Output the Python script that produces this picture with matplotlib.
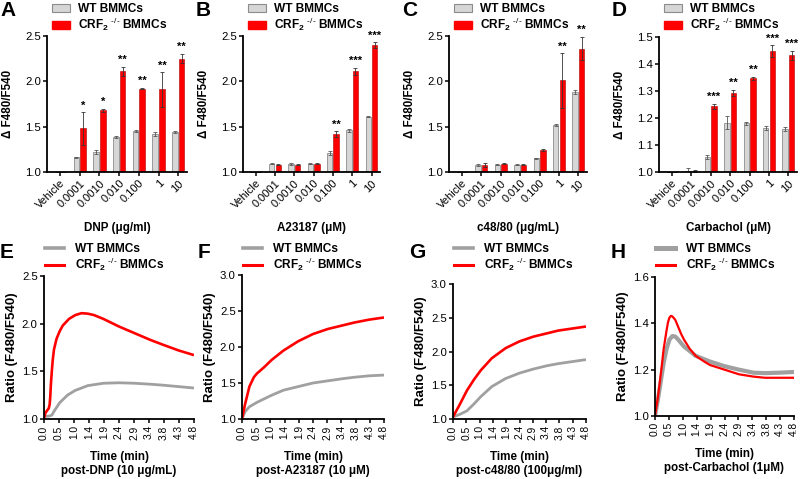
import numpy as np
import matplotlib
matplotlib.use("Agg")
import matplotlib.pyplot as plt
from matplotlib.patches import Patch
from matplotlib.lines import Line2D

plt.rcParams['font.family'] = ['Liberation Sans', 'DejaVu Sans']
plt.rcParams['mathtext.fontset'] = 'custom'
plt.rcParams['mathtext.rm'] = 'Liberation Sans'
plt.rcParams['mathtext.bf'] = 'Liberation Sans:bold'
plt.rcParams['axes.linewidth'] = 1.3

# ---------------- data: bar panels ----------------
conc_labels = ["Vehicle", "0.0001", "0.0010", "0.010", "0.100", "1", "10"]

A_wt = [1.0, 1.16, 1.22, 1.39, 1.45, 1.42, 1.44]
A_wt_err = [0, 0.01, 0.02, 0.01, 0.01, 0.02, 0.015]
A_ko = [1.0, 1.48, 1.68, 2.11, 1.92, 1.91, 2.25]
A_ko_err = [0, 0.18, 0.02, 0.05, 0.01, 0.19, 0.05]
A_sig = ["", "*", "*", "**", "**", "**", "**"]

B_wt = [1.0, 1.09, 1.09, 1.09, 1.21, 1.46, 1.61]
B_wt_err = [0, 0.005, 0.01, 0.005, 0.02, 0.015, 0.005]
B_ko = [1.0, 1.08, 1.08, 1.09, 1.42, 2.11, 2.40]
B_ko_err = [0, 0.005, 0.005, 0.005, 0.03, 0.04, 0.03]
B_sig = ["", "", "", "", "**", "***", "***"]

C_wt = [1.0, 1.08, 1.08, 1.08, 1.15, 1.52, 1.88]
C_wt_err = [0, 0.01, 0.005, 0.005, 0.005, 0.01, 0.02]
C_ko = [1.0, 1.08, 1.09, 1.08, 1.24, 2.01, 2.36]
C_ko_err = [0, 0.02, 0.005, 0.005, 0.01, 0.30, 0.13]
C_sig = ["", "", "", "", "", "**", "**"]

D_wt = [1.0, 1.005, 1.055, 1.183, 1.180, 1.163, 1.160]
D_wt_err = [0, 0.01, 0.007, 0.025, 0.005, 0.008, 0.007]
D_ko = [1.0, 1.004, 1.243, 1.292, 1.347, 1.447, 1.432]
D_ko_err = [0, 0.005, 0.008, 0.012, 0.005, 0.022, 0.017]
D_sig = ["", "", "***", "**", "**", "***", "***"]

# ---------------- data: time courses ----------------
time_ticks = [0.0, 0.5, 1.0, 1.4, 1.9, 2.4, 2.9, 3.4, 3.8, 4.3, 4.8]

E_ko_t = [0.0, 0.04, 0.1, 0.15, 0.18, 0.2, 0.22, 0.25, 0.28, 0.32, 0.4, 0.5, 0.6, 0.8, 1.0, 1.2, 1.4, 1.6, 1.9, 2.4, 2.9, 3.4, 3.8, 4.3, 4.8]
E_ko_y = [1.0, 1.06, 1.09, 1.11, 1.15, 1.23, 1.36, 1.50, 1.62, 1.73, 1.84, 1.92, 1.98, 2.05, 2.09, 2.11, 2.105, 2.09, 2.05, 1.97, 1.90, 1.83, 1.78, 1.72, 1.67]
E_wt_t = [0.0, 0.15, 0.25, 0.32, 0.4, 0.5, 0.75, 1.0, 1.4, 1.9, 2.4, 2.9, 3.4, 3.8, 4.3, 4.8]
E_wt_y = [1.03, 1.03, 1.04, 1.08, 1.12, 1.17, 1.25, 1.30, 1.35, 1.375, 1.38, 1.375, 1.365, 1.355, 1.34, 1.325]

F_ko_t = [0.0, 0.1, 0.25, 0.4, 0.5, 0.75, 1.0, 1.4, 1.9, 2.4, 2.9, 3.4, 3.8, 4.3, 4.8]
F_ko_y = [1.0, 1.2, 1.45, 1.58, 1.63, 1.72, 1.82, 1.95, 2.08, 2.18, 2.25, 2.30, 2.34, 2.38, 2.41]
F_wt_t = [0.0, 0.1, 0.25, 0.5, 1.0, 1.4, 1.9, 2.4, 2.9, 3.4, 3.8, 4.3, 4.8]
F_wt_y = [1.0, 1.1, 1.17, 1.23, 1.33, 1.40, 1.45, 1.50, 1.53, 1.56, 1.58, 1.60, 1.61]

G_ko_t = [0.0, 0.25, 0.5, 0.75, 1.0, 1.4, 1.9, 2.4, 2.9, 3.4, 3.8, 4.3, 4.8]
G_ko_y = [1.03, 1.22, 1.42, 1.58, 1.72, 1.90, 2.05, 2.15, 2.22, 2.27, 2.31, 2.34, 2.37]
G_wt_t = [0.0, 0.25, 0.5, 0.75, 1.0, 1.4, 1.9, 2.4, 2.9, 3.4, 3.8, 4.3, 4.8]
G_wt_y = [1.03, 1.07, 1.12, 1.22, 1.33, 1.48, 1.60, 1.68, 1.74, 1.79, 1.82, 1.85, 1.88]

H_ko_t = [0.0, 0.1, 0.2, 0.3, 0.4, 0.45, 0.5, 0.55, 0.6, 0.7, 0.8, 0.9, 1.0, 1.2, 1.4, 1.7, 1.9, 2.4, 2.9, 3.4, 3.8, 4.3, 4.8]
H_ko_y = [1.0, 1.08, 1.18, 1.29, 1.37, 1.405, 1.425, 1.432, 1.43, 1.415, 1.385, 1.355, 1.33, 1.29, 1.26, 1.235, 1.22, 1.20, 1.18, 1.17, 1.165, 1.165, 1.165]
H_wt_t = [0.0, 0.1, 0.2, 0.3, 0.4, 0.5, 0.6, 0.7, 0.8, 0.9, 1.0, 1.2, 1.4, 1.9, 2.4, 2.9, 3.4, 3.8, 4.3, 4.8]
H_wt_y = [1.0, 1.07, 1.15, 1.23, 1.29, 1.33, 1.345, 1.343, 1.33, 1.315, 1.30, 1.28, 1.26, 1.235, 1.215, 1.20, 1.187, 1.185, 1.187, 1.19]

WT_COLOR = "#d6d6d6"
WT_EDGE = "#8c8c8c"
KO_COLOR = "#ff0000"
LINE_GRAY = "#a0a0a0"

ko_label = r"CRF$_\mathbf{2}$ $^{\text{-/-}}$ BMMCs"

W, Hh = 800, 479
fig = plt.figure(figsize=(8, 4.79), dpi=100)

def px_axes(l, t, r, b):
    return fig.add_axes([l / W, 1 - b / Hh, (r - l) / W, (b - t) / Hh])

def style(ax):
    for s in ["top", "right"]:
        ax.spines[s].set_visible(False)
    ax.tick_params(direction="out", length=3, width=1.1, labelsize=8.2, pad=1.5)

def bar_panel(box, letter, wt, wterr, ko, koerr, sig, ylim, yticks, yfmt, xlabel, star_off):
    ax = px_axes(*box)
    style(ax)
    x = np.arange(len(conc_labels))
    w = 0.28
    off = 0.17
    ax.bar(x - off, np.array(wt) - ylim[0], w, bottom=ylim[0], color=WT_COLOR, edgecolor=WT_EDGE, linewidth=0.6)
    ax.bar(x + off, np.array(ko) - ylim[0], w, bottom=ylim[0], color=KO_COLOR, edgecolor="#b00000", linewidth=0.4)
    ax.errorbar(x - off, wt, yerr=wterr, fmt="none", ecolor="#555555", elinewidth=0.6, capsize=1.5, capthick=0.6)
    ax.errorbar(x + off, ko, yerr=koerr, fmt="none", ecolor="#333333", elinewidth=0.6, capsize=1.5, capthick=0.6)
    for xi, k, e, s in zip(x, ko, koerr, sig):
        if s:
            ax.text(xi + off, k + e + star_off, s, ha="center", va="bottom", fontsize=8, fontweight="bold")
    ax.set_xlim(-0.66, 6.44)
    ax.set_ylim(*ylim)
    ax.set_yticks(yticks)
    ax.set_yticklabels([yfmt.format(v) for v in yticks])
    ax.set_xticks(x)
    ax.set_xticklabels(conc_labels, rotation=45, ha="right", rotation_mode="anchor", fontsize=8)
    ax.set_ylabel("\u0394 F480/F540", fontsize=8.4, fontweight="bold", labelpad=8)
    ax.set_xlabel(xlabel, fontsize=8.4, fontweight="bold", labelpad=8)
    handles = [Patch(facecolor=WT_COLOR, edgecolor=WT_EDGE, linewidth=0.8),
               Patch(facecolor=KO_COLOR, edgecolor=KO_COLOR)]
    l = box[0]
    ax.legend(handles, ["WT BMMCs", ko_label], loc="upper left",
              bbox_to_anchor=((l + 5) / W, 1 - 3 / Hh), bbox_transform=fig.transFigure,
              frameon=False, prop={"weight": "bold", "size": 8.6}, handlelength=1.5,
              handleheight=0.65, handletextpad=0.7, labelspacing=0.05, borderpad=0, borderaxespad=0)
    fig.text((l - 47) / W, 1 - 1 / Hh, letter, fontsize=15, fontweight="bold", va="top", ha="left")
    return ax

bar_panel((47, 36, 187, 172), "A", A_wt, A_wt_err, A_ko, A_ko_err, A_sig,
          (1.0, 2.5), [1.0, 1.5, 2.0, 2.5], "{:.1f}", "DNP (\u03bcg/ml)", 0.02)
bar_panel((243, 36, 380, 172), "B", B_wt, B_wt_err, B_ko, B_ko_err, B_sig,
          (1.0, 2.5), [1.0, 1.5, 2.0, 2.5], "{:.1f}", "A23187 (\u03bcM)", 0.02)
bar_panel((449, 36, 587, 172), "C", C_wt, C_wt_err, C_ko, C_ko_err, C_sig,
          (1.0, 2.5), [1.0, 1.5, 2.0, 2.5], "{:.1f}", "c48/80 (\u03bcg/mL)", 0.02)
bar_panel((659, 37, 797, 172), "D", D_wt, D_wt_err, D_ko, D_ko_err, D_sig,
          (1.0, 1.5), [1.0, 1.1, 1.2, 1.3, 1.4, 1.5], "{:.1f}", "Carbachol (\u03bcM)", 0.007)

def line_panel(box, letter, wt_t, wt_y, ko_t, ko_y, ylim, yticks, xlabel2, wt_lw=2.0, ko_lw=1.9):
    ax = px_axes(*box)
    style(ax)
    ax.plot(wt_t, wt_y, color=LINE_GRAY, lw=wt_lw, solid_capstyle="butt")
    ax.plot(ko_t, ko_y, color=KO_COLOR, lw=ko_lw, solid_capstyle="butt")
    ax.set_xlim(0, 4.8)
    ax.set_ylim(*ylim)
    ax.set_yticks(yticks)
    ax.set_yticklabels(["{:.1f}".format(v) for v in yticks], fontsize=8.2)
    pos = np.linspace(0, 4.8, len(time_ticks))
    ax.set_xticks(pos)
    ax.set_xticklabels(["{:.1f}".format(v) for v in time_ticks], rotation=90, fontsize=7.4)
    ax.set_ylabel("Ratio (F480/F540)", fontsize=9.5, fontweight="bold", labelpad=3)
    ax.set_xlabel("Time (min)\n" + xlabel2, fontsize=8.4, fontweight="bold", labelpad=8, linespacing=1.3)
    handles = [Line2D([0], [0], color=LINE_GRAY, lw=wt_lw + 0.6),
               Line2D([0], [0], color=KO_COLOR, lw=2.2)]
    l = box[0]
    ax.legend(handles, ["WT BMMCs", ko_label], loc="upper left",
              bbox_to_anchor=((l + 1) / W, 1 - 243 / Hh), bbox_transform=fig.transFigure,
              frameon=False, prop={"weight": "bold", "size": 8.6}, handlelength=1.6,
              handletextpad=0.9, labelspacing=0.05, borderpad=0, borderaxespad=0)
    fig.text((l - 44) / W, 1 - 243 / Hh, letter, fontsize=15, fontweight="bold", va="top", ha="left")
    return ax

line_panel((44, 276, 194, 419), "E", E_wt_t, E_wt_y, E_ko_t, E_ko_y,
           (1.0, 2.5), [1.0, 1.5, 2.0, 2.5], "post-DNP (10 \u03bcg/mL)")
line_panel((242, 275, 384, 419), "F", F_wt_t, F_wt_y, F_ko_t, F_ko_y,
           (1.0, 3.0), [1.0, 1.5, 2.0, 2.5, 3.0], "post-A23187 (10 \u03bcM)")
line_panel((453, 284, 586, 419), "G", G_wt_t, G_wt_y, G_ko_t, G_ko_y,
           (1.0, 3.0), [1.0, 1.5, 2.0, 2.5, 3.0], "post-c48/80 (100\u03bcg/ml)")
line_panel((655, 277, 794, 416), "H", H_wt_t, H_wt_y, H_ko_t, H_ko_y,
           (1.0, 1.6), [1.0, 1.2, 1.4, 1.6], "post-Carbachol (1\u03bcM)", wt_lw=3.0, ko_lw=1.6)

fig.savefig("out.png", dpi=100)
